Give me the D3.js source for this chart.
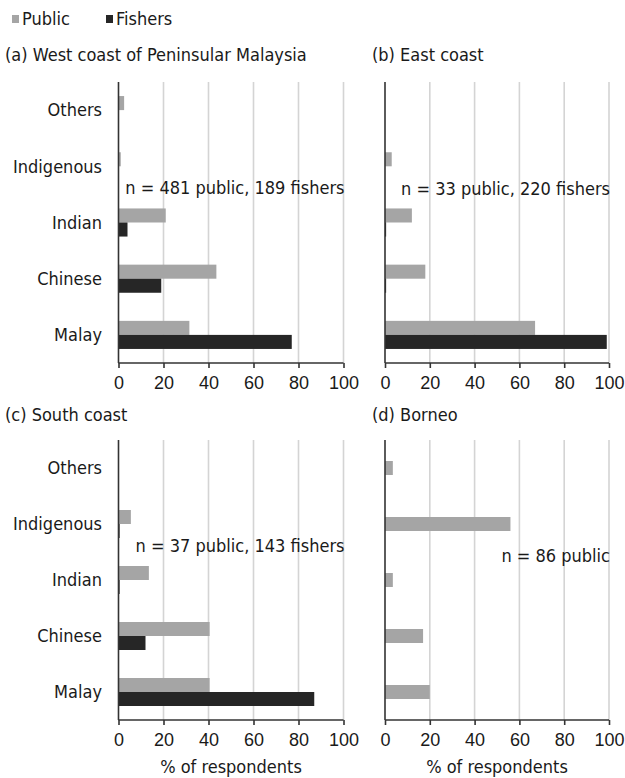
<!DOCTYPE html>
<html>
<head>
<meta charset="utf-8">
<script src="https://cdn.jsdelivr.net/npm/d3@7"></script>
<style>
  body { margin: 0; background: #fff; }
  svg { display: block; font-family: "DejaVu Sans Condensed", "DejaVu Sans", Verdana, sans-serif; }
  text { fill: #1a1a1a; }
</style>
</head>
<body>
<svg id="chart" width="625" height="778"></svg>
<script>
// categories, top to bottom
var categories = ["Others", "Indigenous", "Indian", "Chinese", "Malay"];
var seriesNames = ["Public", "Fishers"];
var tickValues = [0, 20, 40, 60, 80, 100];

// % of respondents
var westPublic = [2.5, 1, 21, 43.5, 31.5];
var westFishers = [0, 0, 4, 19, 77];
var eastPublic = [0, 3, 12, 18, 67];
var eastFishers = [0, 0, 0.5, 0.5, 99];
var southPublic = [0, 5.5, 13.5, 40.5, 40.5];
var southFishers = [0, 0.5, 0.5, 12, 87];
var borneoPublic = [3.5, 56, 3.5, 17, 20];

var COLORS = { Public: "#a5a5a5", Fishers: "#262626" };
var FONT = 18;

var svg = d3.select("#chart");

var panels = [
    { title: "(a) West coast of Peninsular Malaysia", tx: 5, ty: 61,
      x0: 118.5, x1: 343.5, y0: 82, y1: 363, labels: true, xTitle: false,
      note: "n = 481 public, 189 fishers", noteY: 194,
      series: { Public: westPublic, Fishers: westFishers } },
    { title: "(b) East coast", tx: 372, ty: 61,
      x0: 385, x1: 609, y0: 82, y1: 363, labels: false, xTitle: false,
      note: "n = 33 public, 220 fishers", noteY: 195,
      series: { Public: eastPublic, Fishers: eastFishers } },
    { title: "(c) South coast", tx: 5, ty: 421,
      x0: 118.5, x1: 343.5, y0: 440, y1: 720, labels: true, xTitle: true,
      note: "n = 37 public, 143 fishers", noteY: 552,
      series: { Public: southPublic, Fishers: southFishers } },
    { title: "(d) Borneo", tx: 372, ty: 421,
      x0: 385, x1: 609, y0: 440, y1: 720, labels: false, xTitle: true,
      note: "n = 86 public", noteY: 562,
      series: { Public: borneoPublic } }
];

// legend
var legend = svg.append("g").attr("transform", "translate(12,25)");
seriesNames.forEach(function (name, i) {
    var g = legend.append("g").attr("transform", "translate(" + (i * 94) + ",0)");
    g.append("rect").attr("x", 0).attr("y", -10).attr("width", 7).attr("height", 8)
        .attr("fill", COLORS[name]);
    g.append("text").attr("x", 10).attr("y", 0).attr("font-size", FONT).text(name);
});

panels.forEach(function (p) {
    var g = svg.append("g");
    var x = d3.scaleLinear().domain([0, 100]).range([p.x0, p.x1]);
    var y = d3.scaleBand().domain(categories).range([p.y0, p.y1])
        .paddingInner(0.5).paddingOuter(0.25);
    var keys = Object.keys(p.series);
    var inner = d3.scaleBand().domain(keys).range([0, y.bandwidth()]);
    if (keys.length === 1) {
        inner = d3.scaleBand().domain(keys).range([y.bandwidth() / 4, y.bandwidth() * 3 / 4]);
    }

    g.append("text").attr("x", p.tx).attr("y", p.ty).attr("font-size", FONT)
        .text(p.title);

    // vertical gridlines
    g.selectAll("line.grid").data(tickValues.slice(1)).enter().append("line")
        .attr("class", "grid")
        .attr("x1", function (d) { return x(d); })
        .attr("x2", function (d) { return x(d); })
        .attr("y1", p.y0).attr("y2", p.y1)
        .attr("stroke", "#d4d4d4").attr("stroke-width", 1.6);

    // bars
    keys.forEach(function (k) {
        g.selectAll("rect." + k).data(p.series[k]).enter().append("rect")
            .attr("class", k)
            .attr("x", x(0))
            .attr("y", function (d, i) { return y(categories[i]) + inner(k); })
            .attr("width", function (d) { return x(d) - x(0); })
            .attr("height", inner.bandwidth())
            .attr("fill", COLORS[k]);
    });

    // x axis
    var xAxis = d3.axisBottom(x).tickValues(tickValues).tickSize(5).tickPadding(8)
        .tickFormat(d3.format("d"));
    var ax = g.append("g").attr("transform", "translate(0," + p.y1 + ")").call(xAxis);
    ax.select(".domain").attr("stroke", "#333").attr("stroke-width", 1.6)
        .attr("d", "M" + x(0) + ",0H" + x(100));
    ax.selectAll(".tick line").attr("stroke", "#333").attr("stroke-width", 1.6);
    ax.selectAll(".tick text").attr("font-size", FONT).attr("font-family", null)
        .attr("fill", "#1a1a1a");

    // y axis line
    g.append("line").attr("x1", x(0)).attr("x2", x(0)).attr("y1", p.y0).attr("y2", p.y1)
        .attr("stroke", "#333").attr("stroke-width", 1.6);

    if (p.labels) {
        g.selectAll("text.cat").data(categories).enter().append("text")
            .attr("class", "cat")
            .attr("x", 102)
            .attr("y", function (d) { return y(d) + y.bandwidth() / 2; })
            .attr("dy", "0.35em")
            .attr("text-anchor", "end")
            .attr("font-size", FONT)
            .text(function (d) { return d; });
    }

    g.append("text").attr("x", x(100) + 1).attr("y", p.noteY)
        .attr("text-anchor", "end").attr("font-size", FONT).text(p.note);

    if (p.xTitle) {
        g.append("text").attr("x", x(50)).attr("y", 773)
            .attr("text-anchor", "middle").attr("font-size", FONT)
            .text("% of respondents");
    }
});
</script>
</body>
</html>
